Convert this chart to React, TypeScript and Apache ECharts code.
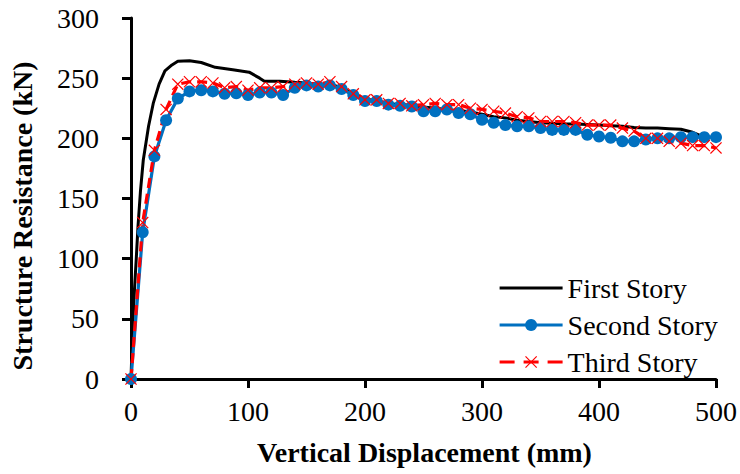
import React, { useEffect, useRef } from "react";
import * as echarts from "echarts";

const displacement = [0, 10, 20, 30, 40, 50, 60, 70, 80, 90, 100, 110, 120, 130, 140, 150, 160, 170, 180, 190, 200, 210, 220, 230, 240, 250, 260, 270, 280, 290, 300, 310, 320, 330, 340, 350, 360, 370, 380, 390, 400, 410, 420, 430, 440, 450, 460, 470, 480, 490, 500];
const secondStory = [0, 122, 185, 215, 233, 239, 240, 239, 237, 237.5, 236, 238, 238, 236, 242, 244, 243, 244, 241, 236, 231, 231, 228, 227, 226.5, 222.5, 222.5, 224, 221, 220, 215.5, 213, 211, 210, 210, 208.5, 207, 207, 207, 203, 201.5, 200.5, 197.5, 197.5, 199, 200, 200, 201, 201, 201, 201];
const thirdStory = [0, 130, 190, 224, 245, 247, 247, 246, 242, 243, 240, 242, 242, 243, 245, 246, 245, 247, 243, 237, 232, 232, 229, 229, 227, 228, 229, 228, 228, 225, 224, 222.5, 221, 218, 217, 214, 214, 214, 213, 211, 211, 211, 208.5, 206, 200, 200, 197.5, 196, 194, 194, 192];
const firstStoryX = [0, 1.5, 3, 4.5, 6, 8, 10.5, 15, 19, 24, 29, 35, 40, 50, 60, 72, 87, 101, 110, 114, 127, 140, 150, 160, 170, 180, 190, 200, 210, 220, 230, 240, 250, 260, 270, 280, 290, 300, 310, 320, 330, 340, 350, 360, 370, 380, 390, 400, 410, 420, 430, 440, 450, 460, 470, 480, 490];
const firstStoryY = [0, 45, 75, 100, 127, 155, 182, 210, 229, 245, 256, 261, 264, 264.5, 263, 259, 257, 255, 250, 247.5, 247.4, 246.6, 246, 245, 245, 242, 237, 233, 231, 229, 228, 227, 226, 225, 224, 223, 222, 220, 218, 217, 215, 214, 213, 212.5, 212, 212, 211.5, 211, 210.5, 210, 209, 208.5, 208.5, 208, 207.5, 205, 201];
const seriesNames = ["First Story", "Second Story", "Third Story"];
const xTitle = "Vertical Displacement (mm)";
const yTitle = "Structure Resistance (kN)";

const FONT = "Liberation Serif";
const CROSS = "path://M0,0.7L0.7,0L5,4.3L9.3,0L10,0.7L5.7,5L10,9.3L9.3,10L5,5.7L0.7,10L0,9.3L4.3,5Z";
const BAR_ICON = "path://M0,0L63,0L63,3L0,3Z";

export default function App() {
  const ref = useRef<HTMLDivElement>(null);
  useEffect(() => {
    if (!ref.current) return;
    const chart = echarts.init(ref.current, null, { renderer: "svg" });
    const zip = (xs: number[], ys: number[]) => xs.map((x, i) => [x, ys[i]]);
    chart.setOption({
      animation: false,
      backgroundColor: "#fff",
      grid: { left: 131, right: 22, top: 18, bottom: 95 },
      xAxis: {
        type: "value",
        min: 0,
        max: 500,
        interval: 100,
        splitLine: { show: false },
        axisLine: { show: true, lineStyle: { color: "#000", width: 3 } },
        axisTick: { show: true, length: 9, lineStyle: { color: "#000", width: 3 } },
        axisLabel: { color: "#000", fontFamily: FONT, fontSize: 28, margin: 18 },
      },
      yAxis: {
        type: "value",
        min: 0,
        max: 300,
        interval: 50,
        splitLine: { show: false },
        axisLine: { show: true, lineStyle: { color: "#000", width: 3 } },
        axisTick: { show: true, length: 9, lineStyle: { color: "#000", width: 3 } },
        axisLabel: { color: "#000", fontFamily: FONT, fontSize: 28, margin: 32 },
      },
      legend: {
        orient: "vertical",
        left: 493,
        top: 268,
        itemWidth: 63,
        itemHeight: 15,
        itemGap: 7,
        data: [
          { name: seriesNames[0], icon: BAR_ICON },
          { name: seriesNames[1], lineStyle: { width: 3.2 } },
          { name: seriesNames[2], lineStyle: { width: 3.2, type: [15, 9] } },
        ],
        textStyle: { color: "#000", fontFamily: FONT, fontSize: 28, lineHeight: 30 },
      },
      graphic: [
        {
          type: "text",
          x: 424.5,
          y: 452,
          style: { text: xTitle, fontFamily: FONT, fontWeight: "bold", fontSize: 28, fill: "#000", align: "center", verticalAlign: "middle" },
        },
        {
          type: "text",
          x: 22,
          y: 216,
          rotation: Math.PI / 2,
          style: { text: yTitle, fontFamily: FONT, fontWeight: "bold", fontSize: 28, fill: "#000", align: "center", verticalAlign: "middle" },
        },
      ],
      series: [
        {
          name: seriesNames[0],
          type: "line",
          data: zip(firstStoryX, firstStoryY),
          symbol: "none",
          lineStyle: { color: "#000", width: 3 },
          itemStyle: { color: "#000" },
        },
        {
          name: seriesNames[1],
          type: "line",
          data: zip(displacement, secondStory),
          symbol: "circle",
          symbolSize: 12,
          lineStyle: { color: "#0070C0", width: 3.2 },
          itemStyle: { color: "#0070C0" },
        },
        {
          name: seriesNames[2],
          type: "line",
          data: zip(displacement, thirdStory),
          symbol: CROSS,
          symbolSize: 12,
          lineStyle: { color: "#FF0000", width: 3.2, type: [10, 6] },
          itemStyle: { color: "#FF0000" },
        },
      ],
    });
    return () => chart.dispose();
  }, []);
  return <div ref={ref} style={{ position: "fixed", left: 0, top: 0, width: 740, height: 474 }} />;
}
